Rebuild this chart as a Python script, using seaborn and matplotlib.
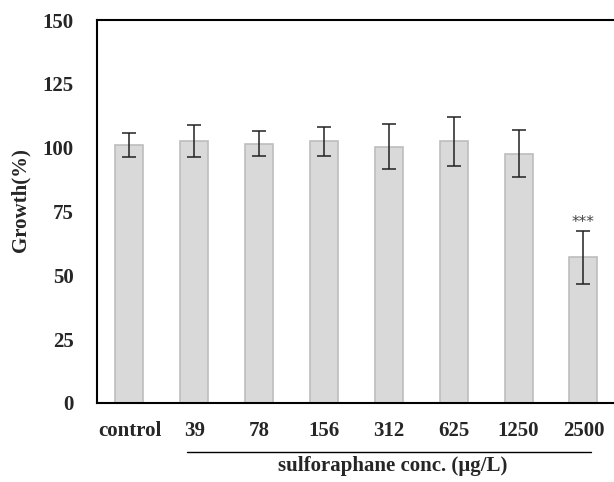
import pandas as pd
import numpy as np
import matplotlib
matplotlib.use("Agg")
import matplotlib.pyplot as plt
import seaborn as sns

# Values
concentrations = ["control", "39", "78", "156", "312", "625", "1250", "2500"]
growth = [101.0, 102.6, 101.6, 102.5, 100.4, 102.5, 97.7, 57.0]
growth_err = [4.8, 6.1, 5.0, 5.6, 8.9, 9.5, 9.2, 10.5]
y_ticks = [0, 25, 50, 75, 100, 125, 150]

df = pd.DataFrame({"conc": concentrations, "growth": growth, "err": growth_err})

sns.set_style("white")
plt.rcParams["font.family"] = ["Liberation Serif", "DejaVu Serif"]

fig = plt.figure(figsize=(6.14, 4.82), dpi=100)
ax = fig.add_axes([0.158, 0.164, 0.845, 0.7945])

sns.barplot(data=df, x="conc", y="growth", color="#d9d9d9", width=0.43,
            edgecolor="#bdbdbd", linewidth=1.2, saturation=1, errorbar=None, ax=ax)
ax.errorbar(np.arange(len(df)), df["growth"], yerr=df["err"], fmt="none",
            ecolor="#222222", elinewidth=1.1, capsize=5, capthick=1.1)

# significance marker on the last bar
last = len(df) - 1
ax.text(last, df["growth"][last] + df["err"][last] + 3.3, "***", ha="center", va="center",
        fontsize=11, color="#444444", family="DejaVu Sans")

ax.set_xlim(-0.5, 7.5)
ax.set_ylim(0, 150)
ax.set_yticks(y_ticks)
ax.set_yticklabels([str(t) for t in y_ticks], fontsize=15, fontweight="bold")
ax.set_xticks(range(len(df)))
ax.set_xticklabels(concentrations, fontsize=15, fontweight="bold")
ax.tick_params(axis="both", direction="in", length=5, width=1, color="black")
ax.tick_params(axis="x", pad=13)
ax.tick_params(axis="y", pad=17)

ax.set_xlabel("")
ax.set_ylabel("Growth(%)", fontsize=15, fontweight="bold")
ax.yaxis.set_label_coords(-0.129, 0.53)

for side in ["left", "bottom", "top"]:
    ax.spines[side].set_visible(True)
    ax.spines[side].set_color("black")
    ax.spines[side].set_linewidth(1.5)
ax.spines["right"].set_visible(False)

# bracket line and label under the concentration groups
fig.add_artist(plt.Line2D([187 / 614, 591 / 614], [1 - 452 / 482, 1 - 452 / 482],
                          color="black", linewidth=1))
fig.text(393 / 614, 1 - 466 / 482, "sulforaphane conc. (\u00b5g/L)", ha="center", va="center",
         fontsize=15, fontweight="bold")

fig.savefig("out.png", dpi=100)
